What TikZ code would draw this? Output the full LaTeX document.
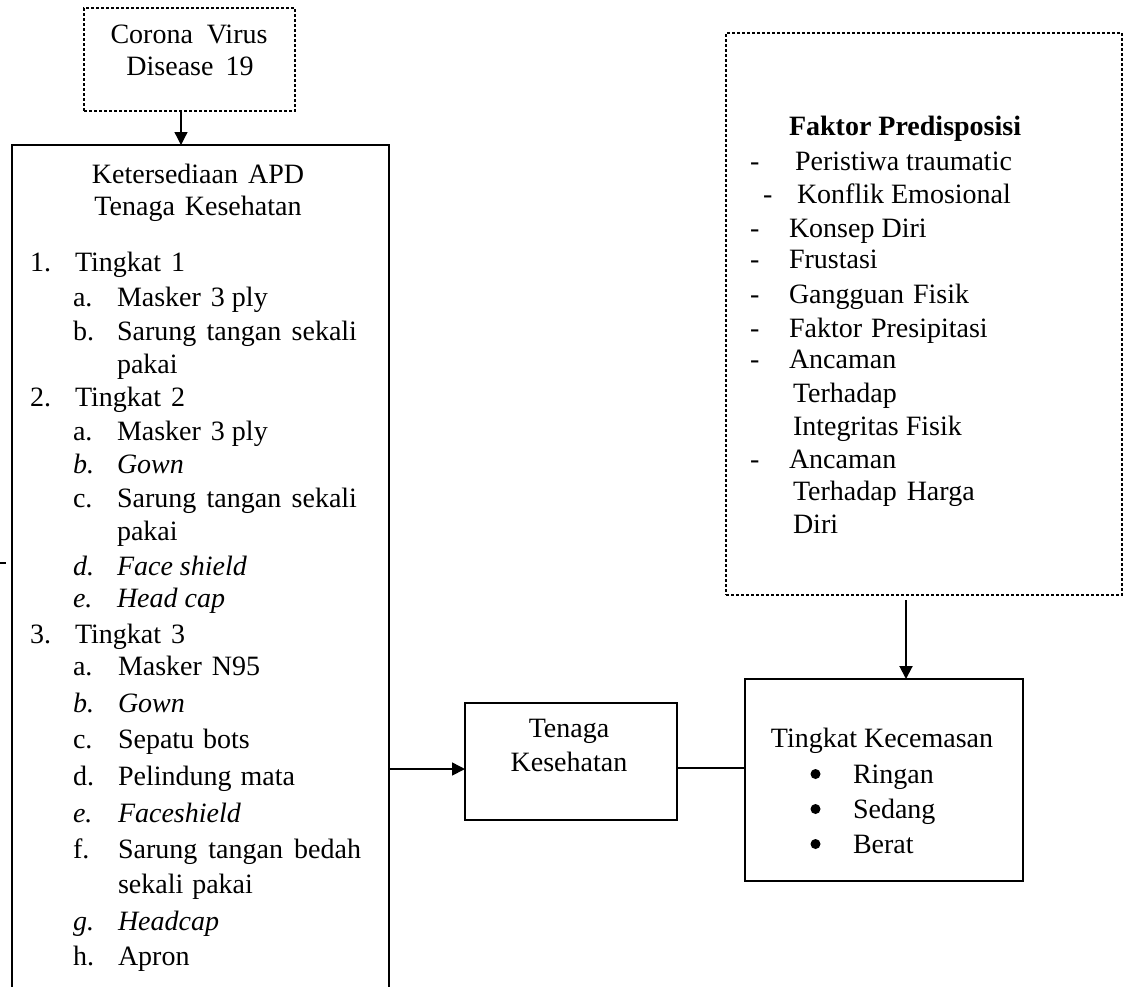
\documentclass[tikz,border=0pt]{standalone}
\usepackage{fontspec}
\setmainfont{Liberation Serif}
\usetikzlibrary{arrows.meta}
\begin{document}
\begin{tikzpicture}[x=1pt,y=-1pt,
  box/.style={draw, line width=1.6pt, inner sep=0pt, outer sep=0pt},
  dbox/.style={draw, line width=1.3pt, dash pattern=on 3pt off 2pt, inner sep=0pt, outer sep=0pt},
  txt/.style={inner sep=0pt, outer sep=0pt, anchor=base west, font=\fontsize{28}{33}\selectfont},
  ctxt/.style={txt, anchor=base},
  dot/.style={circle, fill=black, draw=none, inner sep=0pt, minimum size=10pt},
  arr/.style={line width=1.6pt, -{Triangle[length=13pt,width=13pt]}},
  ln/.style={line width=1.6pt}]
\useasboundingbox (0,0) rectangle (1124,986);
% boxes
\node[dbox, minimum width=211pt, minimum height=103pt] (corona) at (189.5,59.5) {};
\node[box, minimum width=377pt, minimum height=855pt] (apd) at (200.5,572.5) {};
\node[box, minimum width=212pt, minimum height=117pt] (tenaga) at (571,761.5) {};
\node[box, minimum width=278pt, minimum height=202pt] (cemas) at (884,780) {};
\node[dbox, minimum width=396pt, minimum height=562pt] (faktor) at (924,314) {};
% corona text
\node[ctxt] (c1) at (189,43) {Corona\hspace{14pt}Virus};
\node[ctxt] (c2) at (190,75) {Disease\hspace{12pt}19};
% apd text
\node[ctxt] (k1) at (198,183) {Ketersediaan\hspace{10pt}APD};
\node[ctxt] (k2) at (198,215) {Tenaga\hspace{10pt}Kesehatan};
\node[txt] (n1) at (30,271) {1.};   \node[txt] (t1) at (75,271) {Tingkat\hspace{10pt}1};
\node[txt] (a1) at (73,306) {a.};   \node[txt] (a1t) at (117,306) {Masker\hspace{10pt}3 ply};
\node[txt] (b1) at (73,340) {b.};   \node[txt] (b1t) at (117,340) {\makebox[240pt][s]{Sarung tangan sekali}};
\node[txt] (b1u) at (117,373) {pakai};
\node[txt] (n2) at (30,406) {2.};   \node[txt] (t2) at (75,406) {Tingkat\hspace{10pt}2};
\node[txt] (a2) at (73,440) {a.};   \node[txt] (a2t) at (117,440) {Masker\hspace{10pt}3 ply};
\node[txt] (b2) at (73,473) {\textit{b.}}; \node[txt] (b2t) at (117,473) {\textit{Gown}};
\node[txt] (c2l) at (73,507) {c.};  \node[txt] (c2t) at (117,507) {\makebox[240pt][s]{Sarung tangan sekali}};
\node[txt] (c2u) at (117,540) {pakai};
\node[txt] (d2) at (73,575) {\textit{d.}}; \node[txt] (d2t) at (117,575) {\textit{Face shield}};
\node[txt] (e2) at (73,607) {\textit{e.}}; \node[txt] (e2t) at (117,607) {\textit{Head cap}};
\node[txt] (n3) at (30,643) {3.};   \node[txt] (t3) at (75,643) {Tingkat\hspace{10pt}3};
\node[txt] (a3) at (73,675) {a.};   \node[txt] (a3t) at (118,675) {Masker\hspace{10pt}N95};
\node[txt] (b3) at (73,712) {\textit{b.}}; \node[txt] (b3t) at (118,712) {\textit{Gown}};
\node[txt] (c3) at (73,748) {c.};   \node[txt] (c3t) at (118,748) {Sepatu\hspace{9pt}bots};
\node[txt] (d3) at (73,785) {d.};   \node[txt] (d3t) at (118,785) {Pelindung\hspace{9pt}mata};
\node[txt] (e3) at (73,822) {\textit{e.}}; \node[txt] (e3t) at (118,822) {\textit{Faceshield}};
\node[txt] (f3) at (73,858) {f.};   \node[txt] (f3t) at (118,858) {\makebox[243pt][s]{Sarung tangan bedah}};
\node[txt] (f3u) at (118,893) {sekali\hspace{9pt}pakai};
\node[txt] (g3) at (73,930) {\textit{g.}}; \node[txt] (g3t) at (118,930) {\textit{Headcap}};
\node[txt] (h3) at (73,965) {h.};   \node[txt] (h3t) at (118,965) {Apron};
% tenaga text
\node[ctxt] (tk1) at (569,737) {Tenaga};
\node[ctxt] (tk2) at (569,771) {Kesehatan};
% cemas text
\node[ctxt] (tc) at (882,747) {Tingkat Kecemasan};
\node[dot] (bu1) at (815.5,774) {}; \node[txt] (r1) at (853,783) {Ringan};
\node[dot] (bu2) at (815.5,809) {}; \node[txt] (r2) at (853,818) {Sedang};
\node[dot] (bu3) at (815.5,844) {}; \node[txt] (r3) at (853,853) {Berat};
% faktor text
\node[txt] (fp) at (789,135) {\textbf{Faktor Predisposisi}};
\node[txt] (m1) at (750,170) {-}; \node[txt] (p1) at (795,170) {Peristiwa traumatic};
\node[txt] (m2) at (763,203) {-}; \node[txt] (p2) at (797,203) {Konflik Emosional};
\node[txt] (m3) at (750,237) {-}; \node[txt] (p3) at (789,237) {Konsep Diri};
\node[txt] (m4) at (750,268) {-}; \node[txt] (p4) at (789,268) {Frustasi};
\node[txt] (m5) at (750,303) {-}; \node[txt] (p5) at (789,303) {Gangguan\hspace{9pt}Fisik};
\node[txt] (m6) at (750,337) {-}; \node[txt] (p6) at (789,337) {Faktor\hspace{9pt}Presipitasi};
\node[txt] (m7) at (750,368) {-}; \node[txt] (p7) at (789,368) {Ancaman};
\node[txt] (p7b) at (793,402) {Terhadap};
\node[txt] (p7c) at (793,435) {Integritas Fisik};
\node[txt] (m8) at (750,468) {-}; \node[txt] (p8) at (789,468) {Ancaman};
\node[txt] (p8b) at (793,500) {Terhadap\hspace{10pt}Harga};
\node[txt] (p8c) at (793,533) {Diri};
% connector anchor points
\coordinate (csx) at ([xshift=-8.5pt]corona.south);
\coordinate (tw) at ([yshift=-7.5pt]tenaga.west);
\coordinate (te) at ([yshift=-6.5pt]tenaga.east);
\coordinate (fs) at ([xshift=-18pt,yshift=-5pt]faktor.south);
% connectors
\draw[arr, line width=1.3pt] (csx) -- (csx |- apd.north);
\draw[arr] (apd.east |- tw) -- (tw);
\draw[ln] (te) -- (cemas.west |- te);
\draw[arr, line width=2pt] (fs) -- (fs |- cemas.north);
% stray tick at left edge
\coordinate (tk0) at (0,563);
\coordinate (tkA) at (6,563);
\draw[line width=1.6pt] (tk0) -- (tkA);
\end{tikzpicture}
\end{document}
